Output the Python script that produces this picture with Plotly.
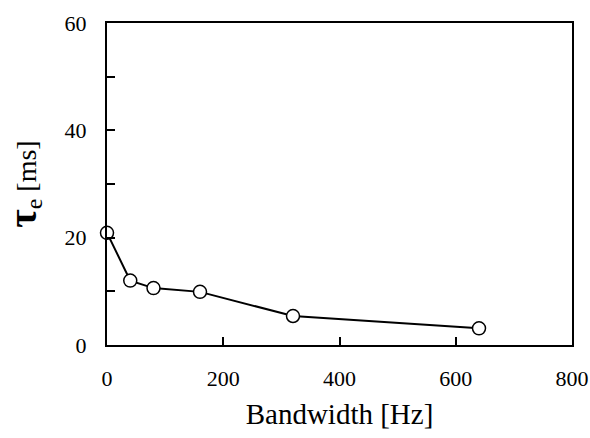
import plotly.graph_objects as go

bandwidth_hz = [0, 40, 80, 160, 320, 640]
tau_e_ms = [20.9, 12.0, 10.6, 9.9, 5.4, 3.1]
x_ticks = [0, 200, 400, 600, 800]
y_ticks = [0, 10, 20, 30, 40, 50, 60]
y_tick_labels = ["0", "", "20", "", "40", "", "60"]

FONT = "Liberation Serif"

fig = go.Figure()
fig.add_trace(go.Scatter(
    x=bandwidth_hz, y=tau_e_ms, mode="lines+markers",
    line=dict(color="black", width=2),
    marker=dict(symbol="circle", size=13, color="white",
                line=dict(color="black", width=1.5)),
    showlegend=False, cliponaxis=False,
))

fig.update_layout(
    width=590, height=438,
    margin=dict(l=107, r=18, t=23, b=93),
    paper_bgcolor="white", plot_bgcolor="white",
    font=dict(family=FONT, color="black", size=22),
    xaxis=dict(
        range=[0, 800], tickvals=x_ticks, ticktext=[str(v) for v in x_ticks],
        ticks="inside", ticklen=8, tickwidth=1.5, tickcolor="black",
        showline=True, linecolor="black", linewidth=2, mirror=True,
        showgrid=False, zeroline=False, automargin=False,
        tickfont=dict(family=FONT, size=22), ticklabelstandoff=13,
        title=dict(text="Bandwidth [Hz]", font=dict(family=FONT, size=29), standoff=13),
    ),
    yaxis=dict(
        range=[0, 60], tickvals=y_ticks, ticktext=y_tick_labels,
        ticks="inside", ticklen=8, tickwidth=1.5, tickcolor="black",
        showline=True, linecolor="black", linewidth=2, mirror=True,
        showgrid=False, zeroline=False, automargin=False,
        tickfont=dict(family=FONT, size=22), ticklabelstandoff=14,
        title=dict(text="<b><span style='font-size:40px'>τ</span></b><sub><span style='font-size:24px'>e</span></sub> [ms]",
                   font=dict(family=FONT, size=28), standoff=30),
    ),
)

fig.write_html("out.html", post_script="document.body.style.margin='0';",
               config={"displayModeBar": False})
